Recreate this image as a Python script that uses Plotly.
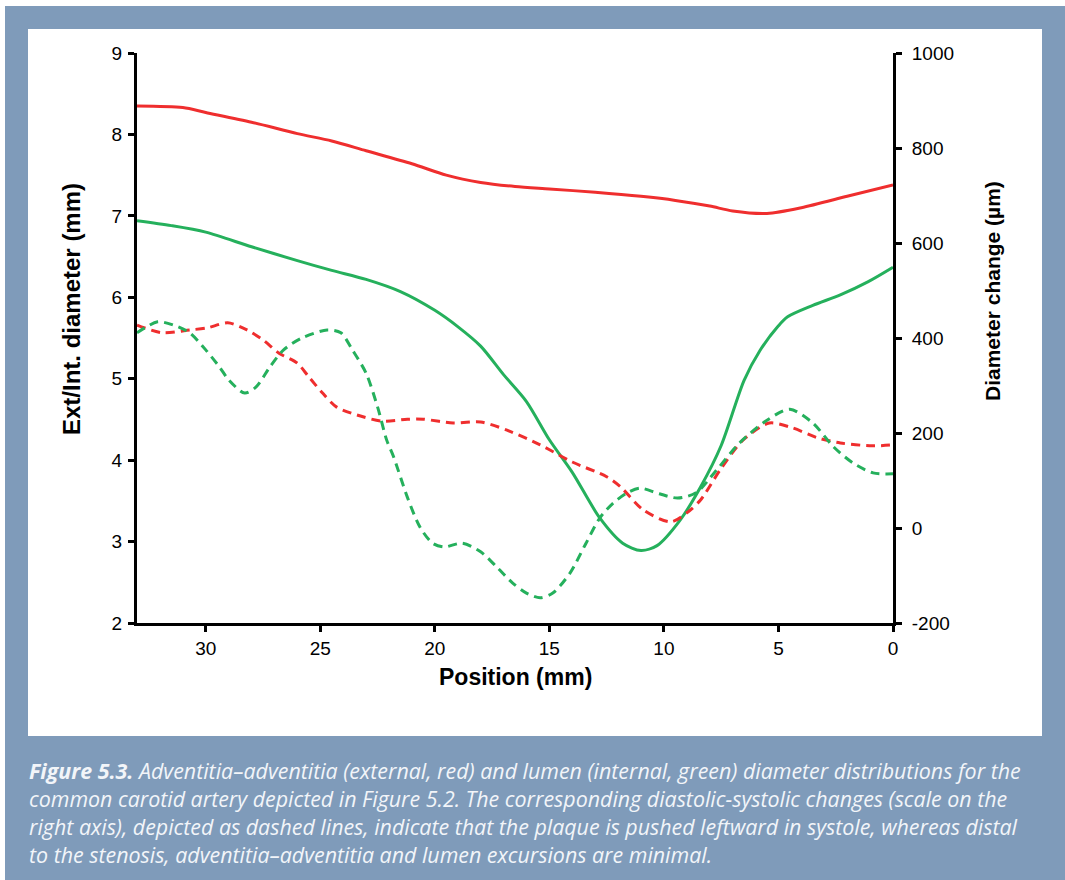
import plotly.graph_objects as go

# ---------------- data ----------------
ext_pos = [33, 31, 30, 28, 26, 24.5, 23, 21, 19.5, 18, 16.5, 15, 13, 11, 9.5, 8, 7, 5.5, 4, 2, 0]
ext_diam = [8.35, 8.33, 8.27, 8.15, 8.01, 7.92, 7.80, 7.64, 7.50, 7.41, 7.36, 7.33, 7.29, 7.24, 7.19, 7.12, 7.06, 7.03, 7.10, 7.24, 7.38]

int_pos = [33, 31.5, 30, 28, 26, 24.5, 23, 21.5, 20, 19, 18, 17, 16, 15, 14, 12.8, 11.8, 11, 10.3, 9.3, 8.4,
           7.5, 6.5, 5.8, 5, 4.6, 3.5, 2.3, 1.1, 0]
int_diam = [6.94, 6.88, 6.80, 6.62, 6.45, 6.33, 6.22, 6.07, 5.84, 5.64, 5.40, 5.05, 4.72, 4.25, 3.85, 3.29, 2.98,
            2.89, 2.95, 3.26, 3.67, 4.18, 4.98, 5.35, 5.65, 5.76, 5.90, 6.03, 6.19, 6.37]

ext_chg_pos = [33, 31.9, 30.7, 29.95, 29.04, 28.2, 27.5, 26.8, 26.0, 25.5, 24.9, 24.3, 23.4, 22.3, 21.2, 20.5,
               19.2, 18.0, 16.85, 15.4, 14.0, 12.5, 11.9, 10.9, 9.7, 9.0, 8.4, 7.55, 6.55, 5.4, 4.4, 3.3, 2.3, 0.9, 0]
ext_chg = [427, 411, 417, 421, 432, 417, 396, 368, 347, 318, 284, 255, 238, 225, 229, 229,
           221, 223, 206, 175, 139, 108, 87, 38, 13, 32, 59, 122, 185, 221, 211, 190, 179, 173, 175]

int_chg_pos = [33, 32.1, 31.4, 30.7, 30.0, 29.4, 29.0, 28.3, 27.8, 27.2, 26.6, 25.8, 24.7, 24.1, 23.6, 23.0,
               22.5, 22.1, 21.8, 21.2, 20.65, 20.1, 19.6, 18.8, 18.0, 17.3, 16.6, 16.0, 15.4, 14.85, 14.1,
               13.4, 12.8, 12.2, 11.6, 11.05, 10.2, 9.4, 8.6, 7.7, 6.7, 5.5, 4.5, 3.5, 2.6, 1.75, 0.87, 0]
int_chg = [411, 434, 427, 411, 375, 339, 312, 284, 297, 339, 375, 400, 417, 411, 375, 326,
           255, 185, 150, 65, 2, -32, -40, -32, -50, -82, -116, -137, -147, -137, -95,
           -32, 21, 53, 74, 84, 72, 63, 74, 122, 179, 227, 250, 221, 171, 137, 116, 114]

x_ticks = [30, 25, 20, 15, 10, 5, 0]
x_ticklabels = ["30", "25", "20", "15", "10", "5", "0"]
y_ticks = [2, 3, 4, 5, 6, 7, 8, 9]
y_ticklabels = ["2", "3", "4", "5", "6", "7", "8", "9"]
y2_ticks = [-200, 0, 200, 400, 600, 800, 1000]
y2_ticklabels = ["-200", "0", "200", "400", "600", "800", "1000"]

x_title = "Position (mm)"
y_title = "Ext/Int. diameter (mm)"
y2_title = "Diameter change (µm)"
caption_lines = [
    "<b>Figure 5.3.</b> Adventitia–adventitia (external, red) and lumen (internal, green) diameter distributions for the",
    "common carotid artery depicted in Figure 5.2. The corresponding diastolic-systolic changes (scale on the",
    "right axis), depicted as dashed lines, indicate that the plaque is pushed leftward in systole, whereas distal",
    "to the stenosis, adventitia–adventitia and lumen excursions are minimal.",
]

# ---------------- styling ----------------
RED = "#ef2e2e"
GREEN = "#25b05c"
BLUE = "#7f9bba"
W, H = 1065, 880
L, R, T, B = 137, 893, 53, 623   # plot-area pixel edges


def px2x(px):
    return (px - L) / (R - L)


def py2y(py):
    return (B - py) / (B - T)


fig = go.Figure()
fig.add_trace(go.Scatter(x=ext_pos, y=ext_diam, mode="lines", yaxis="y",
                         line=dict(color=RED, width=3, shape="spline", smoothing=0.8), showlegend=False))
fig.add_trace(go.Scatter(x=int_pos, y=int_diam, mode="lines", yaxis="y",
                         line=dict(color=GREEN, width=3, shape="spline", smoothing=0.8), showlegend=False))
fig.add_trace(go.Scatter(x=ext_chg_pos, y=ext_chg, mode="lines", yaxis="y2",
                         line=dict(color=RED, width=3, dash="9px,6px", shape="spline", smoothing=0.8),
                         showlegend=False))
fig.add_trace(go.Scatter(x=int_chg_pos, y=int_chg, mode="lines", yaxis="y2",
                         line=dict(color=GREEN, width=3, dash="9px,6px", shape="spline", smoothing=0.8),
                         showlegend=False))

tickfont = dict(family="Liberation Sans, Arial, sans-serif", size=19, color="black")
axis_common = dict(showgrid=False, zeroline=False, showline=True, linecolor="black", linewidth=3,
                   ticks="outside", ticklen=6, tickwidth=3, tickcolor="black", tickfont=tickfont)

fig.update_layout(
    width=W, height=H,
    margin=dict(l=L, r=W - R, t=T, b=H - B),
    paper_bgcolor="white", plot_bgcolor="rgba(0,0,0,0)",
    xaxis=dict(range=[33, 0], tickvals=x_ticks, ticktext=x_ticklabels, ticklabelstandoff=0, **axis_common),
    yaxis=dict(range=[2, 9], tickvals=y_ticks, ticktext=y_ticklabels, ticklabelstandoff=2, **axis_common),
    yaxis2=dict(range=[-200, 1000], tickvals=y2_ticks, ticktext=y2_ticklabels, overlaying="y", side="right",
                anchor="x", ticklabelstandoff=6, **axis_common),
)

shapes = [
    dict(type="rect", xref="paper", yref="paper", layer="below",
         x0=px2x(5), x1=px2x(W + 2), y0=py2y(6), y1=py2y(H + 2), fillcolor=BLUE, line_width=0),
    dict(type="rect", xref="paper", yref="paper", layer="below",
         x0=px2x(28), x1=px2x(1042), y0=py2y(29), y1=py2y(736), fillcolor="white", line_width=0),
]
fig.update_layout(shapes=shapes)

title_font = dict(family="Liberation Sans, Arial, sans-serif", size=23, color="black")
ann = [
    dict(text="<b>%s</b>" % x_title, x=px2x(515), y=py2y(677), xref="paper", yref="paper",
         showarrow=False, font=title_font, xanchor="center", yanchor="middle"),
    dict(text="<b>%s</b>" % y_title, x=px2x(71), y=py2y(309), xref="paper", yref="paper",
         showarrow=False, font=dict(title_font, size=24), textangle=-90, xanchor="center", yanchor="middle"),
    dict(text="<b>%s</b>" % y2_title, x=px2x(992), y=py2y(291), xref="paper", yref="paper",
         showarrow=False, font=dict(title_font, size=21), textangle=-90, xanchor="center", yanchor="middle"),
]
cap_font = dict(family="Open Sans, Lato, sans-serif", size=21.4, color="#f2f5f9")
for i, line in enumerate(caption_lines):
    ann.append(dict(text="<i>%s</i>" % line, x=px2x(27), y=py2y(770 + 28 * i), xref="paper", yref="paper",
                    showarrow=False, font=cap_font, xanchor="left", yanchor="middle", align="left"))
fig.update_layout(annotations=ann)

fig.write_html("out.html", config={"displayModeBar": False},
               post_script="document.body.style.margin='0';document.body.style.overflow='hidden';")
